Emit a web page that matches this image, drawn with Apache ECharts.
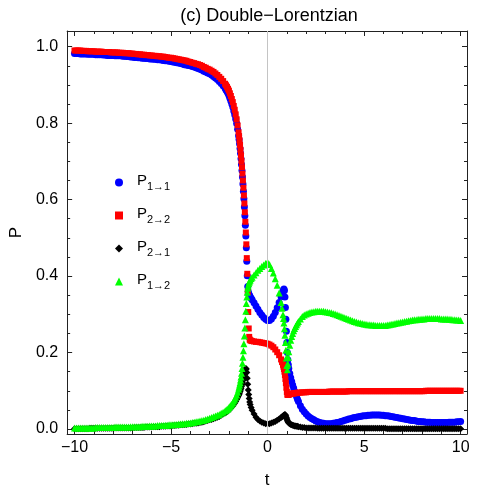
<!DOCTYPE html>
<html>
<head>
<meta charset="utf-8">
<script src="https://cdn.jsdelivr.net/npm/echarts@6/dist/echarts.min.js"></script>
<style>
  html, body { margin: 0; padding: 0; background: #fff; }
  #chart { width: 500px; height: 495px; }
</style>
</head>
<body>
<div id="chart"></div>
<script>
// time grid, denser where the curves drop fast
const tGrid = [
  -10, -9.9, -9.8, -9.7, -9.6, -9.5, -9.4, -9.3, -9.2, -9.1,
  -9, -8.9, -8.8, -8.7, -8.6, -8.5, -8.4, -8.3, -8.2, -8.1,
  -8, -7.9, -7.8, -7.7, -7.6, -7.5, -7.4, -7.3, -7.2, -7.1,
  -7, -6.9, -6.8, -6.7, -6.6, -6.5, -6.4, -6.3, -6.2, -6.1,
  -6, -5.9, -5.8, -5.7, -5.6, -5.5, -5.4, -5.3, -5.2, -5.1,
  -5, -4.9, -4.8, -4.7, -4.6, -4.5, -4.4, -4.3, -4.2, -4.1,
  -4, -3.9, -3.8, -3.7, -3.6, -3.5, -3.4, -3.3, -3.2, -3.1,
  -3, -2.9, -2.8, -2.7, -2.6, -2.5, -2.4, -2.3, -2.2,
  -2.15, -2.1, -2.05, -2, -1.95, -1.9, -1.85, -1.8, -1.75, -1.7, -1.65, -1.6, -1.55,
  -1.5, -1.475, -1.45, -1.425, -1.4, -1.375, -1.35, -1.325, -1.3, -1.275, -1.25, -1.225, -1.2, -1.175, -1.15, -1.125, -1.1, -1.075, -1.05, -1.025, -1, -0.975, -0.95, -0.925, -0.9,
  -0.85, -0.8, -0.7, -0.6, -0.5, -0.4, -0.3, -0.2, -0.1, 0, 0.1, 0.2, 0.3, 0.4, 0.5, 0.6, 0.7, 0.75, 0.8,
  0.825, 0.85, 0.875, 0.9, 0.925, 0.95, 0.975, 1, 1.025, 1.05, 1.075, 1.1,
  1.15, 1.2, 1.25, 1.3, 1.35, 1.4, 1.45, 1.5, 1.55, 1.6, 1.7, 1.8, 1.9, 2, 2.1,
  2.2, 2.3, 2.4, 2.5, 2.6, 2.7, 2.8, 2.9, 3, 3.1,
  3.2, 3.3, 3.4, 3.5, 3.6, 3.7, 3.8, 3.9, 4, 4.1,
  4.2, 4.3, 4.4, 4.5, 4.6, 4.7, 4.8, 4.9, 5, 5.1,
  5.2, 5.3, 5.4, 5.5, 5.6, 5.7, 5.8, 5.9, 6, 6.1,
  6.2, 6.3, 6.4, 6.5, 6.6, 6.7, 6.8, 6.9, 7, 7.1,
  7.2, 7.3, 7.4, 7.5, 7.6, 7.7, 7.8, 7.9, 8, 8.1,
  8.2, 8.3, 8.4, 8.5, 8.6, 8.7, 8.8, 8.9, 9, 9.1,
  9.2, 9.3, 9.4, 9.5, 9.6, 9.7, 9.8, 9.9, 10
];

// P 1->1 (blue)
const p11 = [
  0.982, 0.982, 0.982, 0.981, 0.981, 0.981, 0.981, 0.980, 0.980, 0.980,
  0.980, 0.979, 0.979, 0.979, 0.979, 0.978, 0.978, 0.977, 0.977, 0.977,
  0.977, 0.976, 0.976, 0.976, 0.976, 0.975, 0.975, 0.974, 0.974, 0.973,
  0.973, 0.972, 0.972, 0.971, 0.971, 0.970, 0.970, 0.969, 0.969, 0.968,
  0.968, 0.967, 0.967, 0.966, 0.966, 0.965, 0.964, 0.963, 0.963, 0.962,
  0.961, 0.960, 0.959, 0.958, 0.957, 0.956, 0.955, 0.953, 0.952, 0.951,
  0.950, 0.948, 0.947, 0.945, 0.943, 0.941, 0.939, 0.936, 0.934, 0.931,
  0.929, 0.926, 0.922, 0.918, 0.914, 0.909, 0.904, 0.898, 0.891,
  0.887, 0.883, 0.878, 0.872, 0.865, 0.858, 0.850, 0.842, 0.832, 0.822, 0.811, 0.799, 0.784,
  0.767, 0.757, 0.746, 0.734, 0.721, 0.707, 0.692, 0.676, 0.659, 0.641, 0.622, 0.602, 0.581, 0.558, 0.533, 0.505, 0.474, 0.439, 0.401, 0.373, 0.359, 0.354, 0.351, 0.348, 0.346,
  0.342, 0.338, 0.330, 0.322, 0.313, 0.305, 0.298, 0.292, 0.287, 0.284, 0.284, 0.288, 0.295, 0.305, 0.317, 0.331, 0.346, 0.354, 0.361,
  0.364, 0.366, 0.362, 0.345, 0.318, 0.287, 0.256, 0.226, 0.200, 0.181, 0.168, 0.158,
  0.145, 0.134, 0.124, 0.115, 0.107, 0.099, 0.092, 0.085, 0.078, 0.072, 0.061, 0.052, 0.045, 0.039, 0.034,
  0.030, 0.027, 0.024, 0.021, 0.019, 0.017, 0.016, 0.015, 0.014, 0.014,
  0.014, 0.014, 0.015, 0.016, 0.017, 0.018, 0.020, 0.021, 0.023, 0.024,
  0.026, 0.027, 0.029, 0.030, 0.031, 0.032, 0.033, 0.034, 0.035, 0.035,
  0.036, 0.036, 0.037, 0.037, 0.037, 0.037, 0.037, 0.036, 0.036, 0.035,
  0.035, 0.034, 0.033, 0.032, 0.031, 0.030, 0.029, 0.028, 0.027, 0.026,
  0.025, 0.024, 0.023, 0.022, 0.022, 0.021, 0.020, 0.020, 0.019, 0.019,
  0.018, 0.018, 0.018, 0.017, 0.017, 0.017, 0.017, 0.017, 0.017, 0.017,
  0.017, 0.017, 0.018, 0.018, 0.018, 0.018, 0.019, 0.019, 0.020
];

// P 2->2 (red)
const p22 = [
  0.990, 0.990, 0.990, 0.990, 0.989, 0.989, 0.989, 0.988, 0.988, 0.988,
  0.988, 0.987, 0.987, 0.987, 0.987, 0.986, 0.986, 0.986, 0.986, 0.985,
  0.985, 0.985, 0.985, 0.984, 0.984, 0.984, 0.983, 0.983, 0.983, 0.982,
  0.982, 0.981, 0.981, 0.980, 0.980, 0.979, 0.979, 0.978, 0.978, 0.977,
  0.977, 0.976, 0.976, 0.975, 0.975, 0.974, 0.974, 0.973, 0.972, 0.971,
  0.971, 0.970, 0.969, 0.968, 0.967, 0.966, 0.965, 0.964, 0.963, 0.961,
  0.960, 0.958, 0.957, 0.955, 0.954, 0.952, 0.950, 0.947, 0.945, 0.942,
  0.940, 0.937, 0.934, 0.930, 0.926, 0.921, 0.916, 0.910, 0.903,
  0.899, 0.895, 0.890, 0.885, 0.878, 0.871, 0.863, 0.855, 0.845, 0.835, 0.823, 0.810, 0.794,
  0.776, 0.766, 0.755, 0.743, 0.730, 0.716, 0.701, 0.685, 0.668, 0.650, 0.631, 0.611, 0.590, 0.567, 0.542, 0.514, 0.483, 0.447, 0.406, 0.358, 0.306, 0.263, 0.241, 0.234, 0.232,
  0.231, 0.230, 0.229, 0.228, 0.228, 0.227, 0.226, 0.225, 0.224, 0.223, 0.221, 0.218, 0.214, 0.208, 0.201, 0.193, 0.182, 0.175, 0.168,
  0.163, 0.157, 0.150, 0.141, 0.131, 0.120, 0.108, 0.097, 0.090, 0.089, 0.089, 0.090,
  0.091, 0.092, 0.092, 0.093, 0.093, 0.094, 0.094, 0.094, 0.095, 0.095, 0.095, 0.096, 0.096, 0.096, 0.097,
  0.097, 0.097, 0.097, 0.097, 0.097, 0.097, 0.097, 0.097, 0.097, 0.097,
  0.098, 0.098, 0.098, 0.098, 0.098, 0.098, 0.098, 0.098, 0.098, 0.098,
  0.099, 0.099, 0.099, 0.099, 0.099, 0.099, 0.099, 0.099, 0.099, 0.099,
  0.099, 0.099, 0.099, 0.099, 0.099, 0.099, 0.099, 0.099, 0.099, 0.099,
  0.099, 0.099, 0.099, 0.099, 0.099, 0.099, 0.099, 0.099, 0.099, 0.099,
  0.099, 0.099, 0.099, 0.099, 0.099, 0.099, 0.099, 0.099, 0.099, 0.099,
  0.100, 0.100, 0.100, 0.100, 0.100, 0.100, 0.100, 0.100, 0.100, 0.100,
  0.100, 0.100, 0.100, 0.100, 0.100, 0.100, 0.100, 0.100, 0.100
];

// P 2->1 (black)
const p21 = [
  0.001, 0.001, 0.001, 0.001, 0.001, 0.001, 0.001, 0.001, 0.002, 0.002,
  0.002, 0.002, 0.002, 0.002, 0.002, 0.002, 0.002, 0.002, 0.002, 0.002,
  0.002, 0.003, 0.003, 0.003, 0.003, 0.003, 0.003, 0.003, 0.003, 0.003,
  0.003, 0.004, 0.004, 0.004, 0.004, 0.004, 0.004, 0.005, 0.005, 0.005,
  0.005, 0.006, 0.006, 0.006, 0.006, 0.007, 0.007, 0.007, 0.008, 0.008,
  0.008, 0.009, 0.009, 0.010, 0.010, 0.011, 0.011, 0.012, 0.012, 0.013,
  0.013, 0.014, 0.015, 0.015, 0.016, 0.017, 0.018, 0.019, 0.021, 0.022,
  0.024, 0.025, 0.027, 0.029, 0.031, 0.033, 0.036, 0.039, 0.042,
  0.044, 0.046, 0.048, 0.050, 0.052, 0.055, 0.058, 0.061, 0.064, 0.068, 0.072, 0.077, 0.082,
  0.087, 0.090, 0.094, 0.098, 0.102, 0.106, 0.111, 0.116, 0.121, 0.127, 0.133, 0.139, 0.145, 0.150, 0.155, 0.158, 0.157, 0.148, 0.133, 0.117, 0.102, 0.090, 0.080, 0.071, 0.064,
  0.056, 0.049, 0.039, 0.031, 0.025, 0.021, 0.018, 0.016, 0.014, 0.014, 0.014, 0.016, 0.018, 0.020, 0.023, 0.026, 0.030, 0.032, 0.034,
  0.035, 0.036, 0.037, 0.038, 0.037, 0.034, 0.030, 0.026, 0.023, 0.020, 0.018, 0.016,
  0.014, 0.012, 0.011, 0.010, 0.009, 0.008, 0.008, 0.007, 0.007, 0.006, 0.005, 0.004, 0.004, 0.003, 0.003,
  0.003, 0.003, 0.003, 0.003, 0.002, 0.002, 0.002, 0.002, 0.002, 0.002,
  0.002, 0.002, 0.002, 0.002, 0.002, 0.002, 0.002, 0.002, 0.002, 0.002,
  0.002, 0.002, 0.002, 0.002, 0.002, 0.002, 0.002, 0.002, 0.002, 0.002,
  0.002, 0.002, 0.002, 0.002, 0.002, 0.002, 0.002, 0.002, 0.002, 0.002,
  0.001, 0.001, 0.001, 0.001, 0.001, 0.001, 0.001, 0.001, 0.001, 0.001,
  0.001, 0.001, 0.001, 0.001, 0.001, 0.001, 0.001, 0.001, 0.001, 0.001,
  0.001, 0.001, 0.001, 0.001, 0.001, 0.001, 0.001, 0.001, 0.001, 0.001,
  0.001, 0.001, 0.001, 0.001, 0.001, 0.001, 0.001, 0.001, 0.001
];

// P 1->2 (green)
const p12 = [
  0.003, 0.003, 0.003, 0.003, 0.003, 0.003, 0.003, 0.003, 0.003, 0.003,
  0.003, 0.004, 0.004, 0.004, 0.004, 0.004, 0.004, 0.004, 0.004, 0.004,
  0.004, 0.005, 0.005, 0.005, 0.005, 0.005, 0.005, 0.005, 0.005, 0.006,
  0.006, 0.006, 0.006, 0.006, 0.006, 0.007, 0.007, 0.007, 0.007, 0.008,
  0.008, 0.008, 0.008, 0.009, 0.009, 0.009, 0.009, 0.010, 0.010, 0.011,
  0.011, 0.011, 0.012, 0.012, 0.013, 0.013, 0.014, 0.014, 0.015, 0.015,
  0.016, 0.017, 0.018, 0.019, 0.020, 0.021, 0.022, 0.023, 0.025, 0.026,
  0.028, 0.030, 0.032, 0.034, 0.036, 0.038, 0.041, 0.044, 0.047,
  0.049, 0.051, 0.053, 0.056, 0.059, 0.062, 0.065, 0.069, 0.073, 0.078, 0.083, 0.089, 0.096,
  0.104, 0.109, 0.115, 0.121, 0.128, 0.136, 0.146, 0.158, 0.172, 0.188, 0.205, 0.223, 0.243, 0.264, 0.286, 0.308, 0.328, 0.345, 0.358, 0.368, 0.374, 0.380, 0.384, 0.387, 0.390,
  0.394, 0.397, 0.403, 0.409, 0.415, 0.420, 0.425, 0.429, 0.433, 0.436, 0.430, 0.420, 0.408, 0.393, 0.376, 0.356, 0.331, 0.316, 0.299,
  0.289, 0.277, 0.262, 0.245, 0.226, 0.206, 0.186, 0.166, 0.155, 0.170, 0.187, 0.202,
  0.219, 0.232, 0.242, 0.250, 0.257, 0.263, 0.268, 0.273, 0.277, 0.281, 0.288, 0.294, 0.298, 0.301, 0.303,
  0.305, 0.306, 0.307, 0.308, 0.308, 0.308, 0.308, 0.308, 0.307, 0.306,
  0.305, 0.304, 0.302, 0.301, 0.299, 0.297, 0.295, 0.293, 0.291, 0.289,
  0.287, 0.285, 0.283, 0.281, 0.280, 0.278, 0.277, 0.276, 0.275, 0.274,
  0.273, 0.273, 0.272, 0.272, 0.271, 0.271, 0.271, 0.271, 0.271, 0.271,
  0.272, 0.273, 0.274, 0.275, 0.276, 0.277, 0.278, 0.279, 0.280, 0.281,
  0.282, 0.283, 0.284, 0.285, 0.286, 0.286, 0.287, 0.287, 0.288, 0.288,
  0.289, 0.289, 0.289, 0.289, 0.289, 0.289, 0.289, 0.289, 0.288, 0.288,
  0.288, 0.288, 0.287, 0.287, 0.286, 0.286, 0.285, 0.285, 0.284
];

const xMajor = [-10, -5, 0, 5, 10];
const xMinor = [-10, -9, -8, -7, -6, -5, -4, -3, -2, -1, 0, 1, 2, 3, 4, 5, 6, 7, 8, 9, 10];
const yMajor = [0, 0.2, 0.4, 0.6, 0.8, 1.0];
const yMinor = [0, 0.05, 0.1, 0.15, 0.2, 0.25, 0.3, 0.35, 0.4, 0.45, 0.5, 0.55, 0.6, 0.65, 0.7, 0.75, 0.8, 0.85, 0.9, 0.95, 1.0];

const FONT = 'Liberation Sans, Arial, sans-serif';
const frameColor = '#222';
const xMin = -10.38, xMax = 10.33;
const yMin = -0.013, yMax = 1.041;

const chart = echarts.init(document.getElementById('chart'));

function makeAxis(pos, ticks, len, isMain, isX) {
  return {
    type: 'value',
    position: pos,
    min: isX ? xMin : yMin,
    max: isX ? xMax : yMax,
    axisLine: { show: isMain, onZero: false, lineStyle: { color: frameColor, width: 1 } },
    axisTick: { show: true, inside: true, length: len, customValues: ticks, lineStyle: { color: frameColor, width: 1 } },
    axisLabel: { show: false },
    splitLine: { show: false },
  };
}

const xBottom = makeAxis('bottom', xMajor, 5, true, true);
xBottom.axisLabel = {
  show: true,
  customValues: xMajor,
  margin: 6,
  fontSize: 16,
  fontFamily: FONT,
  color: '#000',
  formatter: (v) => (v < 0 ? '\u2212' + Math.abs(v) : String(v)),
};
xBottom.name = 't';
xBottom.nameLocation = 'middle';
xBottom.nameGap = 38;
xBottom.nameTextStyle = { fontSize: 17, fontFamily: FONT, color: '#000' };

const yLeft = makeAxis('left', yMajor, 5, true, false);
yLeft.axisLabel = {
  show: true,
  customValues: yMajor,
  margin: 9,
  fontSize: 16,
  fontFamily: FONT,
  color: '#000',
  formatter: (v) => v.toFixed(1),
};
yLeft.name = 'P';
yLeft.nameLocation = 'middle';
yLeft.nameGap = 42;
yLeft.nameTextStyle = { fontSize: 17, fontFamily: FONT, color: '#000' };

const zip = (vals) => tGrid.map((t, i) => [t, vals[i]]);

const option = {
  animation: false,
  backgroundColor: '#fff',
  title: {
    text: '(c) Double\u2212Lorentzian',
    left: 264,
    top: 2,
    textAlign: 'center',
    textStyle: { fontSize: 18, fontWeight: 'normal', fontFamily: FONT, color: '#000' },
  },
  grid: { left: 62, right: 33, top: 31, bottom: 61, containLabel: false },
  xAxis: [
    xBottom,
    makeAxis('bottom', xMinor, 3, false, true),
    makeAxis('top', xMajor, 5, true, true),
    makeAxis('top', xMinor, 3, false, true),
  ],
  yAxis: [
    yLeft,
    makeAxis('left', yMinor, 3, false, false),
    makeAxis('right', yMajor, 5, true, false),
    makeAxis('right', yMinor, 3, false, false),
  ],
  legend: {
    orient: 'vertical',
    left: 110,
    top: 168,
    itemWidth: 8,
    itemHeight: 8,
    itemGap: 14,
    selectedMode: false,
    data: [
      { name: 'P1\u21921', icon: 'circle' },
      { name: 'P2\u21922', icon: 'rect' },
      { name: 'P2\u21921', icon: 'diamond' },
      { name: 'P1\u21922', icon: 'triangle' },
    ],
    formatter: (n) => '{p|P}{s|' + n.slice(1) + '}',
    textStyle: {
      fontFamily: FONT,
      color: '#000',
      rich: {
        p: { fontSize: 15, fontFamily: FONT, color: '#000', padding: [0, 0, 4, 9], verticalAlign: 'bottom' },
        s: { fontSize: 11, fontFamily: FONT, color: '#000', verticalAlign: 'bottom' },
      },
    },
  },
  series: [
    {
      // thin gray axis at t = 0, behind the points
      type: 'line',
      name: 'axis0',
      data: [],
      z: 1,
      silent: true,
      markLine: {
        silent: true,
        symbol: ['none', 'none'],
        label: { show: false },
        lineStyle: { color: '#c4c4c4', width: 1, type: 'solid' },
        data: [{ xAxis: 0 }],
      },
    },
    {
      name: 'P1\u21921', type: 'scatter', symbol: 'circle', symbolSize: 7,
      itemStyle: { color: '#0000ff', opacity: 1 }, data: zip(p11), silent: true,
    },
    {
      name: 'P2\u21922', type: 'scatter', symbol: 'rect', symbolSize: 6,
      itemStyle: { color: '#ff0000', opacity: 1 }, data: zip(p22), silent: true,
    },
    {
      name: 'P2\u21921', type: 'scatter', symbol: 'diamond', symbolSize: 7,
      itemStyle: { color: '#000000', opacity: 1 }, data: zip(p21), silent: true,
    },
    {
      name: 'P1\u21922', type: 'scatter', symbol: 'triangle', symbolSize: 7,
      itemStyle: { color: '#00ff00', opacity: 1 }, data: zip(p12), silent: true,
    },
  ],
};

chart.setOption(option);
console.log(tGrid.length, p11.length, p22.length, p21.length, p12.length);
</script>
</body>
</html>
